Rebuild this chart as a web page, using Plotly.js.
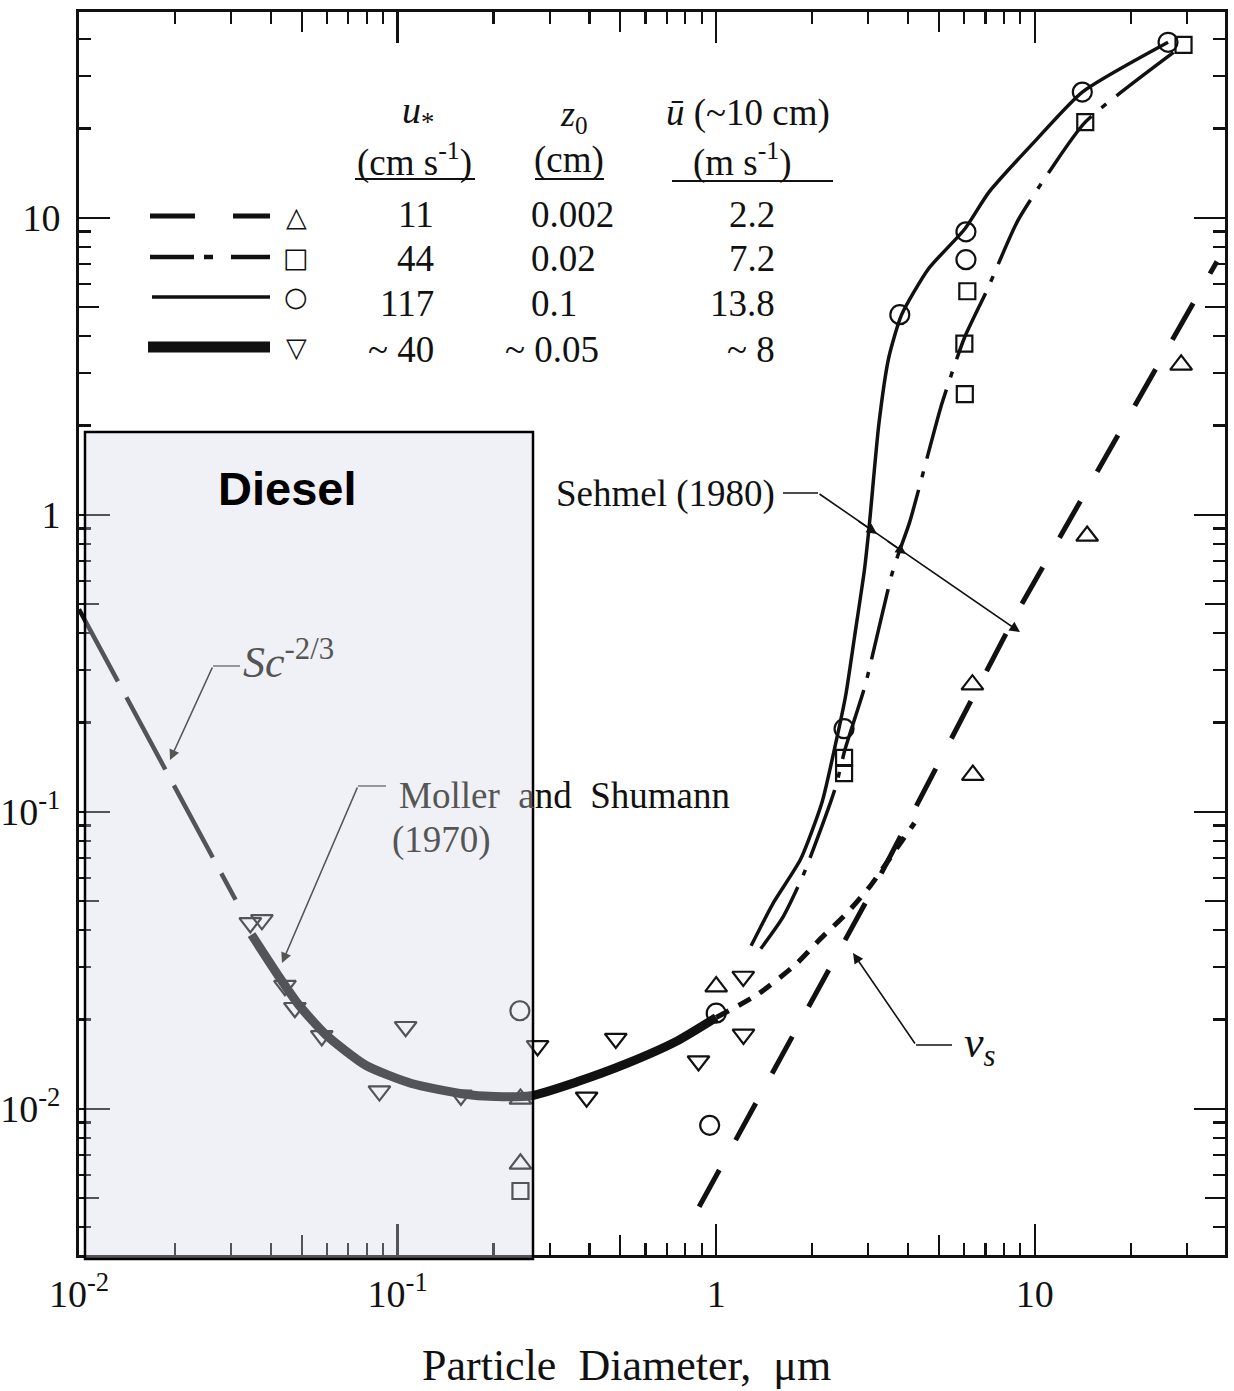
<!DOCTYPE html>
<html>
<head>
<meta charset="utf-8">
<script src="https://cdn.plot.ly/plotly-3.0.1.min.js"></script>
<style>html,body{margin:0;padding:0;background:#fff;}</style>
</head>
<body>
<div id="chart" style="width:1234px;height:1391px;"></div>
<script>
// ---------------- data ----------------
// Sc^-2/3 line
const scDiam = [0.01, 0.0163, 0.031];
const scVd   = [0.481, 0.182, 0.0506];
// thick curve (u* ~ 40)
const thickDiam = [0.0348,0.0425,0.0491,0.0596,0.0794,0.1106,0.1585,0.2025,0.2624,0.368,0.527,0.755,1.0];
const thickVd   = [0.0386,0.0278,0.0223,0.01774,0.01402,0.01217,0.01125,0.0110,0.01107,0.01236,0.01425,0.01694,0.0203];
// short-dash continuation
const contDiam = [1.0,1.35,1.78,2.11,2.57,3.05,3.61,4.19];
const contVd   = [0.0203,0.0243,0.0307,0.0371,0.0456,0.0564,0.0730,0.0917];
// long dash (u* = 11 / settling velocity v_s)
const vsDiam = [0.884, 3.13, 8.83, 37.3];
const vsVd   = [0.00468, 0.0558, 0.473, 7.13];
// solid thin curve (u* = 117)
const solidDiam = [1.287,1.51,1.84,2.15,2.38,2.55,2.72,2.92,3.02,3.24,3.48,3.82,4.64,6.03,7.18,10.1,14.1,26.2];
const solidVd   = [0.0354,0.0493,0.0692,0.108,0.173,0.247,0.391,0.654,0.911,2.02,3.38,4.72,6.74,9.17,12.2,18.3,26.5,39.0];
// dash-dot curve (u* = 44)
const dashDotDiam = [1.38,1.62,1.88,2.28,2.38,2.54,2.93,3.59,4.05,4.68,5.11,6.01,7.06,8.83,11.2,14.4,29.3];
const dashDotVd   = [0.0346,0.0442,0.0616,0.107,0.123,0.163,0.265,0.652,0.947,1.68,2.37,3.94,5.67,9.75,14.5,21.0,38.2];
// measured points
const circDiam = [26.2, 14.1, 6.08, 6.08, 3.77, 2.52, 0.242, 1.0, 0.954];
const circVd   = [39.0, 26.5, 8.97, 7.23, 4.72, 0.1905, 0.0214, 0.0210, 0.0088];
const sqDiam = [29.3, 14.4, 6.14, 6.01, 6.03, 2.52, 2.52, 0.243];
const sqVd   = [38.2, 21.0, 5.66, 3.77, 2.55, 0.152, 0.135, 0.00529];
const upDiam = [28.8, 14.6, 6.37, 6.39, 1.0, 0.243, 0.243];
const upVd   = [3.20, 0.849, 0.268, 0.133, 0.0258, 0.0108, 0.00653];
const dnDiam = [0.0345,0.0375,0.0443,0.0476,0.0578,0.0877,0.106,0.158,0.275,0.392,0.484,0.880,1.216,1.218];
const dnVd   = [0.0423,0.0433,0.0260,0.0219,0.0176,0.01148,0.0189,0.0111,0.0163,0.01094,0.01725,0.01449,0.0279,0.01782];
// table in the legend
const legUstar = ['11','44','117','~ 40'];
const legZ0    = ['0.002','0.02','0.1','~ 0.05'];
const legUbar  = ['2.2','7.2','13.8','~ 8'];
// axis ticks
const xTickVals = [0.01, 0.1, 1, 10];
const xTickText = ['10<sup>-2</sup>','10<sup>-1</sup>','1','10'];
const yTickVals = [0.01, 0.1, 1, 10];
const yTickText = ['10<sup>-2</sup>','10<sup>-1</sup>','1','10'];
const xTitle = 'Particle\u00a0 Diameter,\u00a0 μm';

// ---------------- helpers ----------------
const SERIF = 'Liberation Serif, Times New Roman, serif';
const PL = 79, PR = 1225, PT = 12, PB = 1255;
const px = v => (v - PL) / (PR - PL);
const py = v => (PB - v) / (PB - PT);
const K = '#111';
const GREY = '#555';
const FS = 37;

function minorVals(lo, hi, skip5) {
  const out = [];
  for (let e = lo; e <= hi; e++) {
    for (let d = 2; d <= 9; d++) {
      if (skip5 && d === 5) continue;
      out.push(d * Math.pow(10, e));
    }
  }
  return out;
}
const xRange = [-2, 1.597];
const yRange = [-2.492, 1.693];

function line(x, y, color, width, dash, shape) {
  return {x, y, type: 'scatter', mode: 'lines', hoverinfo: 'skip', showlegend: false,
          line: {color, width, dash: dash || 'solid', shape: shape || 'spline', smoothing: 0.6}};
}
function pts(x, y, symbol, size) {
  return {x, y, type: 'scatter', mode: 'markers', hoverinfo: 'skip', showlegend: false,
          marker: {symbol, size, color: K, line: {color: K, width: 2.2}}};
}

const traces = [
  line(scDiam, scVd, K, 4.5, '82px,18px', 'linear'),
  line(thickDiam, thickVd, K, 9),
  line(contDiam, contVd, K, 5, '14px,11px'),
  line(vsDiam, vsVd, K, 5, '42px,34px', 'linear'),
  line(solidDiam, solidVd, K, 3.5),
  line(dashDotDiam, dashDotVd, K, 3.5, '72px,13px,6px,13px'),
  pts(circDiam, circVd, 'circle-open', 19),
  pts(sqDiam, sqVd, 'square-open', 16),
  pts(upDiam, upVd, 'triangle-up-open', 19),
  pts(dnDiam, dnVd, 'triangle-down-open', 19),
  {x: [1], y: [1], xaxis: 'x2', yaxis: 'y2', type: 'scatter', mode: 'markers',
   marker: {opacity: 0}, hoverinfo: 'skip', showlegend: false}
];

// ---------------- annotations ----------------
const ann = [];
function txt(text, x, y, size, opts) {
  ann.push(Object.assign({xref: 'paper', yref: 'paper', x: px(x), y: py(y), text,
    showarrow: false, xanchor: 'center', yanchor: 'middle',
    font: {family: SERIF, size, color: K}}, opts || {}));
}
function arrow(tx, ty, fx, fy, color) {
  ann.push({xref: 'paper', yref: 'paper', x: px(tx), y: py(ty), ax: fx - tx, ay: fy - ty,
    text: '', showarrow: true, arrowhead: 2, arrowsize: 1.3, arrowwidth: 1.6, arrowcolor: color});
}
// axis title (placed as in the reference, slightly left of centre)
txt(xTitle, 626, 1365, 44);
// table headers
txt('<i>u</i><sub>*</sub>', 418, 113, 38);
txt('(cm s<sup>-1</sup>)', 414, 160, FS);
txt('<i>z</i><sub>0</sub>', 574, 116, 36);
txt('(cm)', 569, 160, FS);
txt('<i>ū</i> (~10 cm)', 748, 113, FS);
txt('(m s<sup>-1</sup>)', 742, 160, FS);
const rowY = [214, 258, 303, 349];
for (let i = 0; i < 4; i++) {
  txt(legUstar[i], 436, rowY[i], FS, {xanchor: 'right'});
  txt(legZ0[i], i === 3 ? 503 : 529, rowY[i], FS, {xanchor: 'left'});
  txt(legUbar[i], 777, rowY[i], FS, {xanchor: 'right'});
}
// legend marker glyphs
const legSym = ['△', '□', '○', '▽'];
const legSymY = [216, 257, 296, 348];
for (let i = 0; i < 4; i++) {
  txt(legSym[i], 296, legSymY[i], 27, {font: {family: 'DejaVu Sans', size: 27, color: K}});
}
// labels
txt('Sehmel (1980)', 554, 494, FS, {xanchor: 'left'});
txt('<span style="color:#555">Moller\u00a0 a</span>nd\u00a0 Shumann', 397, 795, FS, {xanchor: 'left'});
txt('(1970)', 390, 840, FS, {xanchor: 'left', font: {family: SERIF, size: FS, color: GREY}});
txt('<i>Sc</i><sup>-2/3</sup>', 241, 660, 44, {xanchor: 'left', font: {family: SERIF, size: 44, color: GREY}});
txt('<i>v<sub>s</sub></i>', 962, 1045, 44, {xanchor: 'left'});
txt('<b>Diesel</b>', 287, 488, 47, {font: {family: 'Liberation Sans, Arial, sans-serif', size: 47, color: '#000'}});
// leader arrows
arrow(170, 760, 213, 666, GREY);
arrow(282, 963, 358, 786, GREY);
arrow(853, 953, 916, 1045, K);
arrow(1020, 632, 818, 493, K);
arrow(877, 534, 857, 520, K);
arrow(906, 554, 886, 540, K);

// ---------------- shapes ----------------
const shp = [];
function seg(x0, y0, x1, y1, color, width, dash) {
  shp.push({type: 'line', xref: 'paper', yref: 'paper', x0: px(x0), y0: py(y0), x1: px(x1), y1: py(y1),
            line: {color, width, dash: dash || 'solid'}});
}
// legend line samples
seg(150, 216, 270, 216, K, 5, '45px,38px');
seg(150, 257, 270, 257, K, 4.5, '44px,10px,9px,18px');
seg(152, 297, 270, 297, K, 3.5);
seg(148, 347, 270, 347, K, 11);
// header underlines
seg(355, 179, 475, 179, K, 2);
seg(535, 179, 604, 179, K, 2);
seg(672, 181, 833, 181, K, 2);
// leader horizontals
seg(213, 666, 240, 666, GREY, 1.6);
seg(358, 786, 386, 786, GREY, 1.6);
seg(783, 493, 818, 493, K, 1.6);
seg(916, 1045, 952, 1045, K, 1.6);
// Diesel overlay box
shp.push({type: 'rect', xref: 'paper', yref: 'paper', layer: 'above',
  x0: px(85), x1: px(533), y0: py(1259), y1: py(432),
  fillcolor: 'rgba(210,214,231,0.34)', line: {color: '#000', width: 2.5}});

// ---------------- layout ----------------
const tickFont = {family: SERIF, size: 38, color: K};
const layout = {
  width: 1234, height: 1391,
  margin: {l: PL, r: 1234 - PR, t: PT, b: 1391 - PB},
  paper_bgcolor: '#fff', plot_bgcolor: '#fff',
  showlegend: false,
  xaxis: {type: 'log', range: xRange, showgrid: false, zeroline: false,
    showline: true, linecolor: K, linewidth: 3, mirror: 'ticks',
    ticks: 'inside', ticklen: 31, tickwidth: 2.5, tickcolor: K,
    tickmode: 'array', tickvals: xTickVals, ticktext: xTickText, tickfont: tickFont,
    ticklabelstandoff: 3,
    minor: {tickmode: 'array', tickvals: minorVals(-2, 1, true), ticks: 'inside', ticklen: 12, tickwidth: 2.2, tickcolor: K, showgrid: false}},
  yaxis: {type: 'log', range: yRange, showgrid: false, zeroline: false,
    showline: true, linecolor: K, linewidth: 3, mirror: 'ticks',
    ticks: 'inside', ticklen: 31, tickwidth: 2.5, tickcolor: K,
    tickmode: 'array', tickvals: yTickVals, ticktext: yTickText, tickfont: tickFont,
    ticklabelstandoff: 8,
    minor: {tickmode: 'array', tickvals: minorVals(-3, 1, true), ticks: 'inside', ticklen: 12, tickwidth: 2.2, tickcolor: K, showgrid: false}},
  xaxis2: {type: 'log', range: xRange, overlaying: 'x', anchor: 'y', showgrid: false, zeroline: false,
    showline: false, mirror: 'ticks', ticks: 'inside', ticklen: 20, tickwidth: 2.3, tickcolor: K,
    tickmode: 'array', tickvals: [0.05, 0.5, 5], showticklabels: false},
  yaxis2: {type: 'log', range: yRange, overlaying: 'y', anchor: 'x', showgrid: false, zeroline: false,
    showline: false, mirror: 'ticks', ticks: 'inside', ticklen: 20, tickwidth: 2.3, tickcolor: K,
    tickmode: 'array', tickvals: [0.005, 0.05, 0.5, 5], showticklabels: false},
  annotations: ann,
  shapes: shp
};

Plotly.newPlot('chart', traces, layout, {staticPlot: true, displayModeBar: false});
</script>
</body>
</html>
